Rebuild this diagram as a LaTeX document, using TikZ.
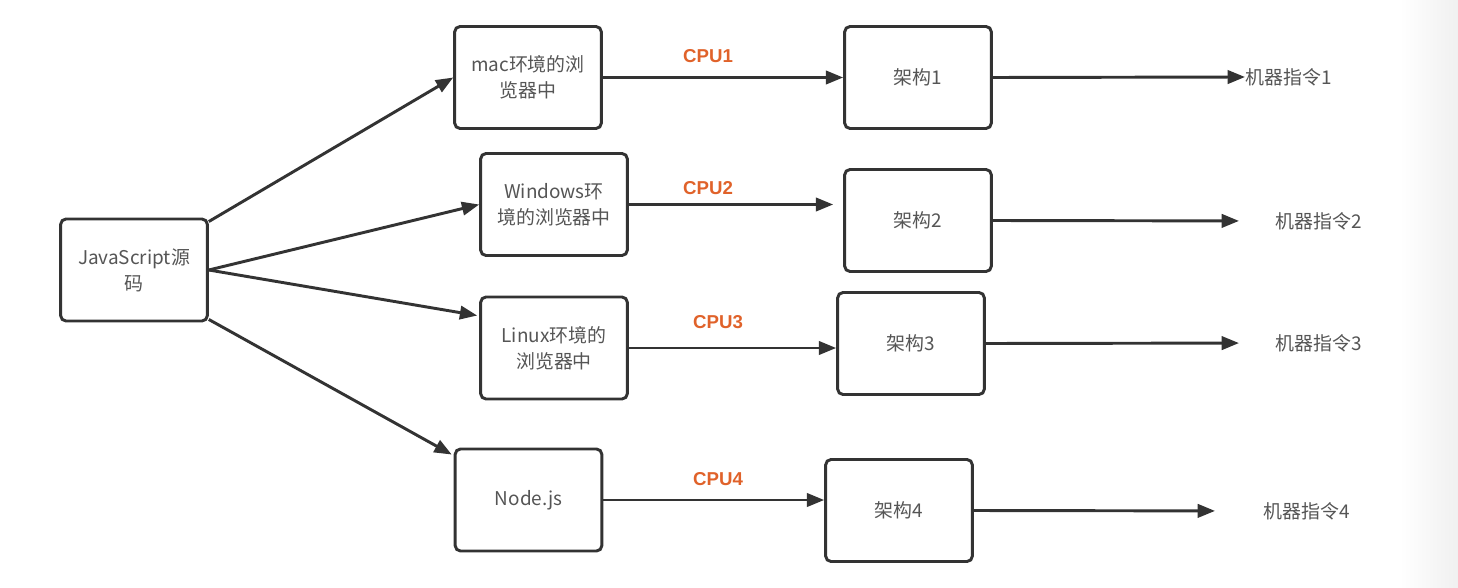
\documentclass[tikz,border=0pt]{standalone}
\usepackage{fontspec}
\newfontfamily\cjk{Noto Sans CJK SC}
\newfontfamily\cpufont{Liberation Sans}
\usetikzlibrary{arrows.meta,calc}
\definecolor{linec}{HTML}{333333}
\definecolor{txt}{HTML}{555555}
\definecolor{cpuc}{HTML}{E0622A}
\definecolor{edgegray}{HTML}{F0F0F0}
\tikzset{
  box/.style={draw=linec, line width=2.2pt, rounded corners=4pt, minimum width=110pt, minimum height=76.5pt, inner sep=0pt, align=center, text=txt, font=\cjk\fontsize{14.2}{19.5}\selectfont},
  arr/.style={draw=linec, line width=2.2pt, -{Triangle[length=13pt,width=10pt]}},
  cpu/.style={text=cpuc, font=\cpufont\bfseries\fontsize{14}{16}\selectfont, inner sep=0pt},
  instr/.style={text=txt, font=\cjk\fontsize{14.2}{19.5}\selectfont, inner sep=0pt, anchor=west},
}
\begin{document}
\begin{tikzpicture}[x=0.75pt,y=-0.75pt]
\useasboundingbox (0,0) rectangle (1458,588);
\shade[left color=white, right color=edgegray, draw=none] (1400,0) rectangle (1458,588);
% nodes
\node[box] (js) at (134,270) {JavaScript源\\码};
\node[box] (mac) at (528,77.5) {mac环境的浏\\览器中};
\node[box] (win) at (554,204.5) {Windows环\\境的浏览器中};
\node[box] (lin) at (554,348) {Linux环境的\\浏览器中};
\node[box] (nd) at (528.5,500) {Node.js};
\node[box] (a1) at (918,77.5) {架构1};
\node[box] (a2) at (918,220.5) {架构2};
\node[box] (a3) at (911,343.5) {架构3};
\node[box] (a4) at (899,510.5) {架构4};
\node[instr] (m1) at (1245,77) {机器指令1};
\node[instr] (m2) at (1275,221) {机器指令2};
\node[instr] (m3) at (1275,343) {机器指令3};
\node[instr] (m4) at (1263,511) {机器指令4};
\node[cpu] (c1) at (708,56) {CPU1};
\node[cpu] (c2) at (708,188) {CPU2};
\node[cpu] (c3) at (718,322) {CPU3};
\node[cpu] (c4) at (718,479) {CPU4};
% connectors
\draw[arr] ($(js.north east)+(0,4)$) -- (mac.west);
\draw[arr] (js.east) -- (win.west);
\draw[arr] (js.east) -- ($(lin.north west)+(-2,20)$);
\draw[arr] ($(js.south east)+(0,-3)$) -- ($(nd.north west)+(-2,7)$);
\draw[arr] (mac.east) -- (a1.west);
\draw[arr] (win.east) -- ($(a2.west |- win.east)+(-10,0)$);
\draw[arr] (lin.east) -- (a3.west |- lin.east);
\draw[arr] (nd.east) -- (a4.west |- nd.east);
\draw[arr] (a1.east) -- (m1.west);
\draw[arr, shorten >=27pt] (a2.east) -- (m2.west);
\draw[arr, shorten >=27pt] (a3.east) -- (m3.west);
\draw[arr, shorten >=36pt] (a4.east) -- (m4.west);
\end{tikzpicture}
\end{document}
